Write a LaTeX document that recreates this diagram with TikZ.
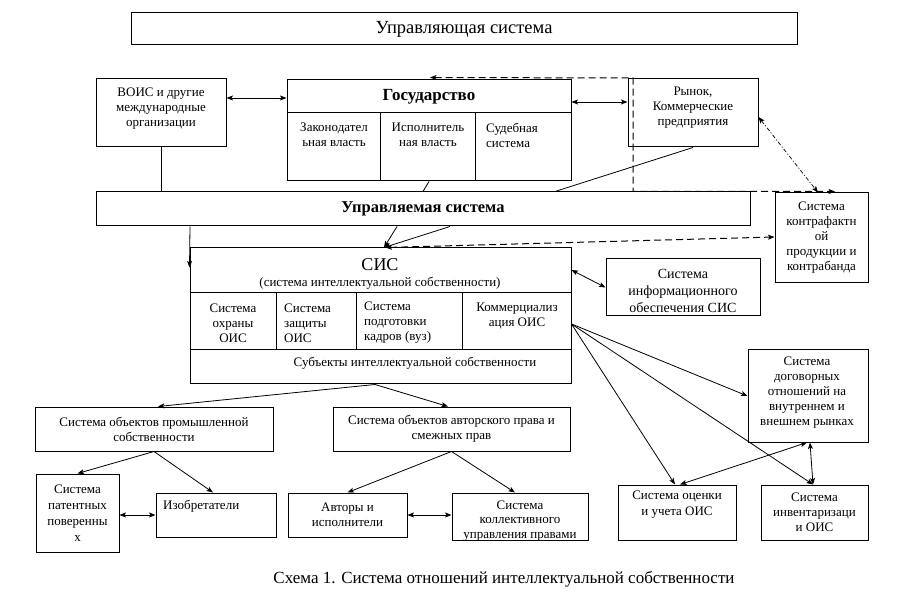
\documentclass[tikz,border=0pt]{standalone}
\usepackage{fontspec}
\setmainfont{Liberation Serif}
\usetikzlibrary{arrows.meta,calc}
\begin{document}
\begin{tikzpicture}[x=1pt,y=-1pt,
  >={Stealth[length=6.5pt,width=5pt,inset=1.5pt]},
  box/.style={draw, line width=1pt, inner sep=0pt},
  tx/.style={font=\fontsize{13}{15}\selectfont, align=center, inner sep=0pt},
  con/.style={line width=0.8pt},
  arr/.style={con, ->},
  dbl/.style={con, <->},
  dsh/.style={line width=1pt, dash pattern=on 7pt off 4pt},
  dd/.style={line width=0.7pt, dash pattern=on 4pt off 2pt on 1pt off 2pt}
]
\fill[white] (0,0) rectangle (906,604);
\useasboundingbox (0,0) rectangle (906,604);

% top
\node[box, minimum width=666, minimum height=32, font=\fontsize{18.5}{20}\selectfont] (upr) at (464,29) {Управляющая система};

\node[box, minimum width=130, minimum height=68] (vois) at (161,113) {};
\node[tx] (voisT) at (161,109) {ВОИС и другие\\международные\\организации};

\node[box, minimum width=284, minimum height=101] (gos) at (429,130.5) {};
\node[font=\bfseries\fontsize{17}{19}\selectfont, inner sep=0pt] (gosT) at (429,97) {Государство};
\draw[con] ([yshift=-33]gos.north west) -- ([yshift=-33]gos.north east);
\draw[con] ([xshift=94,yshift=-33]gos.north west) -- ([xshift=94]gos.south west);
\draw[con] ([xshift=189,yshift=-33]gos.north west) -- ([xshift=189]gos.south west);
\node[tx] (gosL) at (334,135) {Законодател\\ьная власть};
\node[tx] (gosE) at (428,135) {Исполнитель\\ная власть};
\node[tx, align=left, anchor=west] (gosJ) at (486,135) {Судебная\\система};

\node[box, minimum width=130, minimum height=68] (rynok) at (693,113) {};
\node[tx] (rynokT) at (693,108) {Рынок,\\Коммерческие\\предприятия};

\node[box, minimum width=654, minimum height=34, font=\bfseries\fontsize{16.5}{18}\selectfont] (uprm) at (423,209) {Управляемая система};

\node[box, tx, minimum width=93, minimum height=90] (kontr) at (821.5,238) {Система\\контрафактн\\ой\\продукции и\\контрабанда};

% SIS
\node[box, minimum width=381, minimum height=136] (sis) at (380.5,316) {};
\draw[con] ([yshift=-45]sis.north west) -- ([yshift=-45]sis.north east);
\draw[con] ([yshift=-102]sis.north west) -- ([yshift=-102]sis.north east);
\foreach \dx in {87,167,273} \draw[con] ([xshift=\dx,yshift=-45]sis.north west) -- ([xshift=\dx,yshift=-102]sis.north west);
\node[font=\fontsize{18}{20}\selectfont, inner sep=0pt] (sisT) at (380,265) {СИС};
\node[tx] (sisS) at (380,283) {(система интеллектуальной собственности)};
\node[tx] (sis1) at (233,323) {Система\\охраны\\ОИС};
\node[tx, align=left, anchor=west] (sis2) at (284,323) {Система\\защиты\\ОИС};
\node[tx, align=left, anchor=west] (sis3) at (364,323) {Система\\подготовки\\кадров (вуз)};
\node[tx] (sis4) at (517,316) {Коммерциализ\\ация ОИС};
\node[tx] (sis5) at (415,363) {Субъекты интеллектуальной собственности};

\node[box, minimum width=154, minimum height=57] (info) at (683,287.5) {};
\node[tx, font=\fontsize{14}{17}\selectfont] (infoT) at (683,291) {Система\\информационного\\обеспечения СИС};

% right column
\node[box, minimum width=120, minimum height=92] (dog) at (808,396) {};
\node[tx] (dogT) at (807,393) {Система\\договорных\\отношений на\\внутреннем и\\внешнем рынках};
\node[box, minimum width=118, minimum height=55] (ocen) at (677,512.5) {};
\node[tx, font=\fontsize{13}{16}\selectfont] (ocenT) at (677,505) {Система оценки\\и учета ОИС};
\node[box, tx, minimum width=107, minimum height=55] (inv) at (814.5,512.5) {Система\\инвентаризаци\\и ОИС};

% lower left
\node[box, tx, minimum width=238, minimum height=44] (prom) at (154,429) {Система объектов промышленной\\собственности};
\node[box, tx, minimum width=237, minimum height=44] (avt) at (451.5,429) {Система объектов авторского права и\\смежных прав};
\node[box, tx, font=\fontsize{13}{16}\selectfont, minimum width=83, minimum height=78] (pat) at (77.5,513) {Система\\патентных\\поверенны\\х};
\node[box, minimum width=120, minimum height=44] (izob) at (216,515) {};
\node[tx, anchor=west] (izobT) at (163,506) {Изобретатели};
\node[box, tx, font=\fontsize{13}{14.5}\selectfont, minimum width=119, minimum height=44] (avtory) at (347.5,515) {Авторы и\\исполнители};
\node[box, minimum width=136, minimum height=47] (koll) at (520,516.5) {};
\node[tx, font=\fontsize{13}{14.5}\selectfont] (kollT) at (520,521) {Система\\коллективного\\управления правами};

\node[font=\fontsize{17}{19}\selectfont, inner sep=0pt] (cap) at (504,579) {Схема 1. Система отношений интеллектуальной собственности};

% connectors
\draw[dbl] ([yshift=15]vois.east) -- ([yshift=32.5]gos.west);
\draw[dbl] ([yshift=28.5]gos.east) -- ([yshift=11]rynok.west);
\coordinate (dc) at (633,78);
\draw[dsh, <->] ([xshift=1,yshift=2]gos.north) -- (dc) -- (dc |- uprm.north) -- ([xshift=13.5,yshift=1]kontr.north);
\draw[dd, <->] ([yshift=-4]rynok.east) -- ([xshift=-3.5]kontr.north);
\draw[con] (vois.south) -- (vois.south |- uprm.north);
\draw[con] (gos.south) -- (uprm.north);
\draw[con] (rynok.south) -- ([xshift=132]uprm.north);
\draw[arr] ([xshift=-26]uprm.south) -- ([xshift=3.5]sis.north);
\draw[arr] ([xshift=27]uprm.south) -- ([xshift=3.5]sis.north);
\draw[dsh, <->] ([xshift=5]sis.north) -- ([yshift=1]kontr.west);
\draw[arr] ([xshift=-233]uprm.south) -- ([yshift=-20]sis.north west);
\draw[dbl] ([yshift=46]sis.east) -- (info.west);
\coordinate (fan) at ([yshift=-8]sis.east);
\draw[arr] (fan) -- (dog.west);
\draw[arr] (fan) -- ([xshift=-2]ocen.north);
\draw[arr] (fan) -- ([xshift=-1.5]inv.north);
\draw[dbl] ([xshift=3]ocen.north) -- ([xshift=-1]dog.south);
\draw[dbl] ([xshift=2]dog.south) -- ([xshift=-1.5]inv.north);
\coordinate (sb) at ([xshift=-5.5]sis.south);
\draw[arr] (sb) -- ([xshift=4]prom.north);
\draw[arr] (sb) -- ([xshift=-3.5]avt.north);
\draw[arr] (prom.south) -- (pat.north);
\draw[arr] (prom.south) -- ([xshift=-3]izob.north);
\draw[dbl] (pat.east |- izob.west) -- (izob.west);
\draw[arr] (avt.south) -- (avtory.north);
\draw[arr] (avt.south) -- ([xshift=-5]koll.north);
\draw[dbl] (avtory.east) -- (avtory.east -| koll.west);
\end{tikzpicture}
\end{document}
